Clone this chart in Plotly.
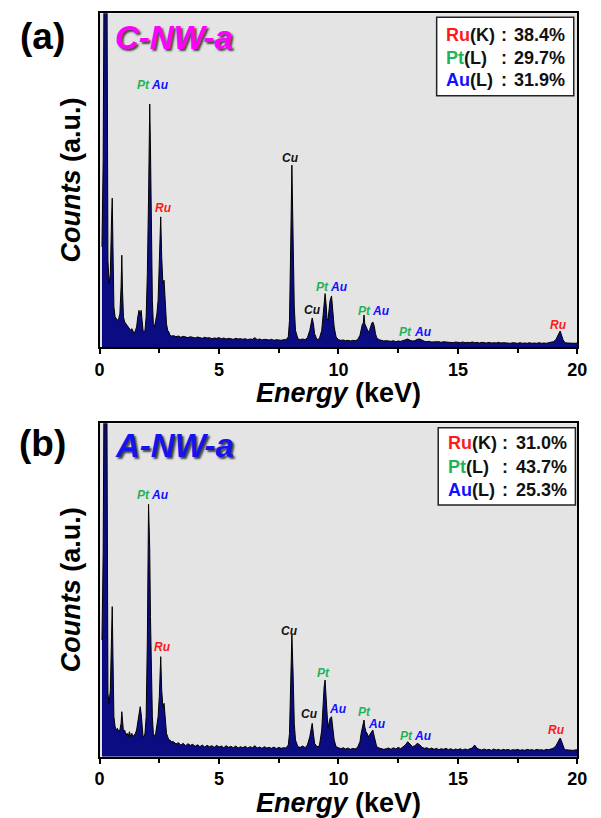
import plotly.graph_objects as go

# ---------------- data ----------------
# shared energy grid (keV), split into segments
energy_low = [0.10, 0.15, 0.20, 0.25, 0.28, 0.31, 0.35, 0.40, 0.45, 0.50,
              0.53, 0.56, 0.60, 0.65, 0.70, 0.75, 0.80, 0.85, 0.90, 0.93,
              0.96, 1.00, 1.05, 1.10, 1.15, 1.20, 1.25, 1.30, 1.35, 1.40,
              1.45, 1.50, 1.55, 1.60, 1.65, 1.70, 1.74, 1.78, 1.82, 1.86,
              1.90, 1.95, 2.00, 2.05, 2.10, 2.13, 2.17, 2.21, 2.25, 2.30,
              2.35, 2.40, 2.45, 2.50, 2.56, 2.60, 2.65, 2.70, 2.75, 2.80,
              2.85, 2.90, 2.95, 3.00]
energy_mid = [3.1, 3.2, 3.3, 3.4, 3.5, 3.6, 3.7, 3.8, 3.9, 4.0,
              4.1, 4.2, 4.3, 4.4, 4.5, 4.6, 4.7, 4.8, 4.9, 5.0,
              5.1, 5.2, 5.3, 5.4, 5.5, 5.6, 5.7, 5.8, 5.9, 6.0,
              6.1, 6.2, 6.3, 6.4, 6.5, 6.6, 6.7, 6.8, 6.9, 7.0,
              7.1, 7.2, 7.3, 7.4, 7.5, 7.6, 7.7]
energy_peaks = [7.8, 7.9, 7.95, 8.00, 8.05, 8.10, 8.15, 8.20, 8.30, 8.40,
                8.50, 8.60, 8.70, 8.80, 8.85, 8.90, 8.95, 9.00, 9.10, 9.20,
                9.30, 9.35, 9.40, 9.44, 9.48, 9.52, 9.56, 9.60, 9.65, 9.71,
                9.76, 9.82, 9.90, 10.0, 10.1, 10.2, 10.3, 10.4, 10.5, 10.6,
                10.7, 10.8, 10.9, 10.95, 11.00, 11.04, 11.07, 11.10, 11.15, 11.20,
                11.25, 11.30, 11.35, 11.40, 11.44, 11.50, 11.55, 11.60, 11.70, 11.80,
                11.90, 12.0]
energy_high = [12.1, 12.2, 12.3, 12.4, 12.5, 12.6, 12.7, 12.8, 12.9, 13.0,
               13.1, 13.2, 13.3, 13.4, 13.5, 13.6, 13.7, 13.8, 13.9, 14.0,
               14.1, 14.2, 14.3, 14.4, 14.5, 14.6, 14.7, 14.8, 14.9, 15.0,
               15.1, 15.2, 15.3, 15.4, 15.5, 15.6, 15.7, 15.8, 15.9, 16.0,
               16.1, 16.2, 16.3, 16.4, 16.5, 16.6, 16.7, 16.8, 16.9, 17.0,
               17.1, 17.2, 17.3, 17.4, 17.5, 17.6, 17.7, 17.8, 17.9, 18.0,
               18.1, 18.2, 18.3, 18.4, 18.5, 18.6, 18.7, 18.8, 18.9, 19.0,
               19.1, 19.15, 19.2, 19.25, 19.28, 19.32, 19.36, 19.4, 19.45, 19.5,
               19.6, 19.7, 19.8, 19.9, 20.0]

# (a) C-NW-a counts (normalised, a.u.)
counts_a_low = [0.30, 0.56, 1.30, 1.60, 1.50, 1.10, 0.26, 0.19, 0.22, 0.38,
                0.446, 0.30, 0.12, 0.09, 0.085, 0.08, 0.085, 0.10, 0.18, 0.275,
                0.17, 0.09, 0.075, 0.07, 0.065, 0.06, 0.055, 0.05, 0.055, 0.045,
                0.04, 0.05, 0.06, 0.09, 0.11, 0.095, 0.11, 0.08, 0.05, 0.045,
                0.05, 0.09, 0.22, 0.45, 0.728, 0.60, 0.32, 0.14, 0.07, 0.06,
                0.08, 0.10, 0.14, 0.25, 0.39, 0.27, 0.19, 0.20, 0.13, 0.07,
                0.05, 0.045, 0.035, 0.033]
counts_a_mid = [0.034, 0.031, 0.033, 0.029, 0.032, 0.030, 0.028, 0.031, 0.029, 0.027,
                0.030, 0.028, 0.026, 0.029, 0.027, 0.028, 0.025, 0.027, 0.026, 0.028,
                0.025, 0.027, 0.024, 0.026, 0.025, 0.023, 0.026, 0.024, 0.025, 0.023,
                0.025, 0.022, 0.024, 0.023, 0.028, 0.022, 0.024, 0.021, 0.023, 0.022,
                0.021, 0.023, 0.020, 0.022, 0.021, 0.020, 0.022]
counts_a_peaks = [0.022, 0.03, 0.08, 0.30, 0.545, 0.33, 0.12, 0.05, 0.025, 0.022,
                  0.024, 0.022, 0.028, 0.05, 0.075, 0.087, 0.07, 0.04, 0.022, 0.025,
                  0.05, 0.10, 0.145, 0.16, 0.13, 0.085, 0.08, 0.11, 0.14, 0.153,
                  0.12, 0.06, 0.03, 0.022, 0.02, 0.021, 0.019, 0.02, 0.018, 0.02,
                  0.019, 0.022, 0.035, 0.055, 0.068, 0.072, 0.096, 0.07, 0.06, 0.052,
                  0.045, 0.05, 0.065, 0.072, 0.075, 0.062, 0.04, 0.028, 0.022, 0.02,
                  0.018, 0.019]
counts_a_high = [0.018, 0.017, 0.019, 0.016, 0.018, 0.017, 0.019, 0.021, 0.024, 0.020,
                 0.018, 0.019, 0.023, 0.024, 0.020, 0.017, 0.016, 0.017, 0.015, 0.016,
                 0.015, 0.016, 0.014, 0.016, 0.015, 0.014, 0.015, 0.013, 0.015, 0.014,
                 0.013, 0.015, 0.013, 0.014, 0.013, 0.015, 0.013, 0.014, 0.012, 0.014,
                 0.013, 0.012, 0.014, 0.012, 0.013, 0.012, 0.014, 0.012, 0.013, 0.012,
                 0.013, 0.011, 0.013, 0.012, 0.011, 0.013, 0.011, 0.012, 0.011, 0.013,
                 0.011, 0.012, 0.011, 0.013, 0.011, 0.012, 0.011, 0.013, 0.014, 0.016,
                 0.022, 0.030, 0.038, 0.042, 0.048, 0.040, 0.030, 0.022, 0.016, 0.013,
                 0.012, 0.011, 0.012, 0.011, 0.012]

# (b) A-NW-a counts (normalised, a.u.)
counts_b_low = [0.35, 0.61, 1.30, 1.60, 1.50, 1.00, 0.19, 0.16, 0.20, 0.36,
                0.45, 0.30, 0.12, 0.09, 0.08, 0.085, 0.075, 0.08, 0.10, 0.135,
                0.10, 0.075, 0.08, 0.065, 0.07, 0.06, 0.075, 0.06, 0.07, 0.06,
                0.065, 0.07, 0.08, 0.10, 0.12, 0.15, 0.13, 0.09, 0.06, 0.06,
                0.07, 0.12, 0.35, 0.757, 0.62, 0.42, 0.25, 0.12, 0.07, 0.06,
                0.07, 0.09, 0.12, 0.18, 0.30, 0.20, 0.15, 0.16, 0.10, 0.07,
                0.06, 0.05, 0.05, 0.045]
counts_b_mid = [0.045, 0.038, 0.042, 0.035, 0.040, 0.033, 0.039, 0.034, 0.037, 0.031,
                0.036, 0.030, 0.035, 0.029, 0.034, 0.030, 0.033, 0.028, 0.034, 0.029,
                0.032, 0.027, 0.033, 0.028, 0.031, 0.027, 0.032, 0.026, 0.030, 0.027,
                0.031, 0.026, 0.030, 0.027, 0.033, 0.026, 0.029, 0.025, 0.030, 0.026,
                0.028, 0.025, 0.029, 0.024, 0.028, 0.025, 0.027]
counts_b_peaks = [0.026, 0.035, 0.07, 0.22, 0.365, 0.25, 0.10, 0.05, 0.03, 0.028,
                  0.032, 0.027, 0.035, 0.06, 0.085, 0.10, 0.07, 0.04, 0.03, 0.032,
                  0.08, 0.15, 0.21, 0.23, 0.17, 0.10, 0.085, 0.10, 0.115, 0.12,
                  0.09, 0.05, 0.03, 0.026, 0.024, 0.027, 0.023, 0.026, 0.022, 0.025,
                  0.023, 0.028, 0.045, 0.07, 0.09, 0.095, 0.11, 0.09, 0.075, 0.07,
                  0.06, 0.065, 0.07, 0.075, 0.08, 0.06, 0.04, 0.03, 0.026, 0.024,
                  0.022, 0.024]
counts_b_high = [0.026, 0.022, 0.027, 0.023, 0.028, 0.024, 0.030, 0.035, 0.045, 0.036,
                 0.030, 0.033, 0.040, 0.036, 0.028, 0.025, 0.027, 0.023, 0.026, 0.022,
                 0.025, 0.021, 0.024, 0.022, 0.025, 0.021, 0.024, 0.020, 0.023, 0.021,
                 0.024, 0.020, 0.023, 0.021, 0.024, 0.026, 0.035, 0.025, 0.022, 0.020,
                 0.023, 0.020, 0.022, 0.019, 0.023, 0.020, 0.022, 0.019, 0.022, 0.020,
                 0.022, 0.019, 0.021, 0.020, 0.022, 0.019, 0.021, 0.019, 0.022, 0.020,
                 0.021, 0.019, 0.022, 0.020, 0.021, 0.019, 0.022, 0.021, 0.023, 0.026,
                 0.032, 0.040, 0.048, 0.052, 0.056, 0.050, 0.040, 0.030, 0.024, 0.021,
                 0.020, 0.021, 0.019, 0.020, 0.021]

# peak labels
labels_a_text = ["Pt", "Au", "Ru", "Cu", "Cu", "Pt", "Au", "Pt", "Au", "Pt", "Au", "Ru"]
labels_a_energy = [1.84, 2.53, 2.68, 8.0, 8.9, 9.35, 10.04, 11.1, 11.78, 12.8, 13.55, 19.21]
labels_a_height = [0.785, 0.785, 0.416, 0.566, 0.11, 0.18, 0.18, 0.108, 0.108, 0.046, 0.046, 0.066]
labels_b_text = ["Pt", "Au", "Ru", "Cu", "Cu", "Pt", "Au", "Pt", "Au", "Pt", "Au", "Ru"]
labels_b_energy = [1.82, 2.53, 2.64, 7.95, 8.8, 9.38, 9.99, 11.07, 11.62, 12.84, 13.52, 19.14]
labels_b_height = [0.785, 0.785, 0.33, 0.378, 0.127, 0.25, 0.142, 0.135, 0.097, 0.062, 0.062, 0.08]

# composition boxes
elements = ["Ru", "Pt", "Au"]
shells = ["K", "L", "L"]
composition_a = [38.4, 29.7, 31.9]
composition_b = [31.0, 43.7, 25.3]

sample_names = ["C-NW-a", "A-NW-a"]
panel_letters = ["(a)", "(b)"]
x_ticks = [0, 5, 10, 15, 20]

# ---------------- styling ----------------
W, H = 601, 818
FONT = "Liberation Sans, Arial, sans-serif"
COLORS = {"Ru": "#ff1a1a", "Pt": "#1fb45a", "Au": "#1010ff", "Cu": "#111111"}
FILL = "#0c0c82"
BG = "#e4e4e4"


def fx(p):
    return p / W


def fy(p):
    return 1 - p / H


energy = energy_low + energy_mid + energy_peaks + energy_high
counts_a = counts_a_low + counts_a_mid + counts_a_peaks + counts_a_high
counts_b = counts_b_low + counts_b_mid + counts_b_peaks + counts_b_high

fig = go.Figure()
for counts, xa, ya in [(counts_a, "x", "y"), (counts_b, "x2", "y2")]:
    fig.add_trace(go.Scatter(
        x=energy, y=counts, mode="lines", fill="tozeroy",
        fillcolor=FILL, line=dict(color="#000000", width=1),
        xaxis=xa, yaxis=ya, showlegend=False, hoverinfo="skip"))

# panel geometry (pixels)
panels = [dict(top=13.3, bottom=347.0), dict(top=423.3, bottom=756.7)]
x_left, x_right = 97.0, 587.0

axis_common_x = dict(
    range=[0, 20], tickvals=x_ticks, ticktext=[str(t) for t in x_ticks],
    ticks="outside", ticklen=5, tickwidth=1.5, tickcolor="#000",
    minor=dict(tickvals=[2.5, 7.5, 12.5, 17.5], ticks="outside", ticklen=4,
               tickwidth=1.5, tickcolor="#000"),
    showline=True, linewidth=2, linecolor="#000", mirror=True,
    showgrid=False, zeroline=False,
    tickfont=dict(family=FONT, size=18, color="#000", weight="bold"),
    domain=[fx(x_left), fx(x_right)],
)
axis_common_y = dict(
    range=[0, 1], showticklabels=False, ticks="",
    showline=True, linewidth=2, linecolor="#000", mirror=True,
    showgrid=False, zeroline=False,
)

layout = dict(
    width=W, height=H, autosize=False, margin=dict(l=0, r=0, t=0, b=0, pad=0),
    paper_bgcolor="white", plot_bgcolor=BG, showlegend=False,
    xaxis=dict(axis_common_x, anchor="y"),
    yaxis=dict(axis_common_y, anchor="x",
               domain=[fy(panels[0]["bottom"]), fy(panels[0]["top"])]),
    xaxis2=dict(axis_common_x, anchor="y2"),
    yaxis2=dict(axis_common_y, anchor="x2",
                domain=[fy(panels[1]["bottom"]), fy(panels[1]["top"])]),
)
fig.update_layout(**layout)

annotations = []
shapes = []

# peak labels
for xr, yr, texts, es, hs in [("x", "y", labels_a_text, labels_a_energy, labels_a_height),
                              ("x2", "y2", labels_b_text, labels_b_energy, labels_b_height)]:
    for t, e, h in zip(texts, es, hs):
        annotations.append(dict(
            x=e, y=h, xref=xr, yref=yr, text=t, showarrow=False,
            xanchor="center", yanchor="middle",
            font=dict(family=FONT, size=12, color=COLORS[t], weight="bold", style="italic")))

# per-panel decorations
name_colors = ["#ff00ff", "#1414f0"]
box_geom = [dict(x0=442.7, x1=583.3, y0=17.3, y1=95.7),
            dict(x0=444.3, x1=585.0, y0=427.7, y1=505.0)]
line_offsets = [[17.7, 40.7, 62.7], [15.6, 39.0, 62.3]]
compositions = [composition_a, composition_b]
name_centers_y = [37.0, 445.0]
letter_centers_y = [36.5, 443.0]

for i, p in enumerate(panels):
    # panel letter
    annotations.append(dict(
        x=fx(38.7), y=fy(letter_centers_y[i]), xref="paper", yref="paper",
        text=panel_letters[i], showarrow=False, xanchor="center", yanchor="middle",
        font=dict(family=FONT, size=37, color="#000", weight="bold")))
    # sample name
    annotations.append(dict(
        x=fx(111), y=fy(name_centers_y[i]), xref="paper", yref="paper",
        text=sample_names[i], showarrow=False, xanchor="left", yanchor="middle",
        font=dict(family=FONT, size=33, color=name_colors[i], weight="bold",
                  style="italic", shadow="2px 2px 2px #444")))
    # y-axis title
    mid_y = (p["top"] + p["bottom"]) / 2
    annotations.append(dict(
        x=fx(68), y=fy(mid_y), xref="paper", yref="paper",
        text="<i>Counts</i> (a.u.)", showarrow=False, textangle=-90,
        xanchor="center", yanchor="middle",
        font=dict(family=FONT, size=27, color="#000", weight="bold")))
    # x-axis title
    annotations.append(dict(
        x=fx((x_left + x_right) / 2), y=fy(p["bottom"] + 46), xref="paper", yref="paper",
        text="<i>Energy</i> (keV)", showarrow=False,
        xanchor="center", yanchor="middle",
        font=dict(family=FONT, size=27, color="#000", weight="bold")))
    # composition box
    b = box_geom[i]
    shapes.append(dict(type="rect", xref="paper", yref="paper",
                       x0=fx(b["x0"]), x1=fx(b["x1"]), y0=fy(b["y1"]), y1=fy(b["y0"]),
                       fillcolor="white", line=dict(color="#222", width=1.5), layer="above"))
    for j, el in enumerate(elements):
        yy = fy(b["y0"] + line_offsets[i][j])
        annotations.append(dict(
            x=fx(b["x0"] + 7.5), y=yy, xref="paper", yref="paper", showarrow=False,
            text=f"<span style='color:{COLORS[el]}'>{el}</span>({shells[j]})",
            xanchor="left", yanchor="middle",
            font=dict(family=FONT, size=18, color="#111", weight="bold")))
        annotations.append(dict(
            x=fx(b["x0"] + 69), y=yy, xref="paper", yref="paper", showarrow=False,
            text=":", xanchor="center", yanchor="middle",
            font=dict(family=FONT, size=18, color="#111", weight="bold")))
        annotations.append(dict(
            x=fx(b["x1"] - 7), y=yy, xref="paper", yref="paper", showarrow=False,
            text=f"{compositions[i][j]:.1f}%", xanchor="right", yanchor="middle",
            font=dict(family=FONT, size=18, color="#111", weight="bold")))

fig.update_layout(annotations=annotations, shapes=shapes)

# keep the page exactly the size of the figure (no body margin / scrollbars)
page_fix = ("document.documentElement.style.overflow='hidden';"
            "document.documentElement.style.margin='0';"
            "document.body.style.overflow='hidden';"
            "document.body.style.margin='0';"
            "var gd=document.getElementById('{plot_id}');"
            "gd.style.width='601px';gd.style.height='818px';"
            "Plotly.relayout(gd,{width:601,height:818});")
fig.write_html("out.html", config={"responsive": False}, post_script=page_fix)
